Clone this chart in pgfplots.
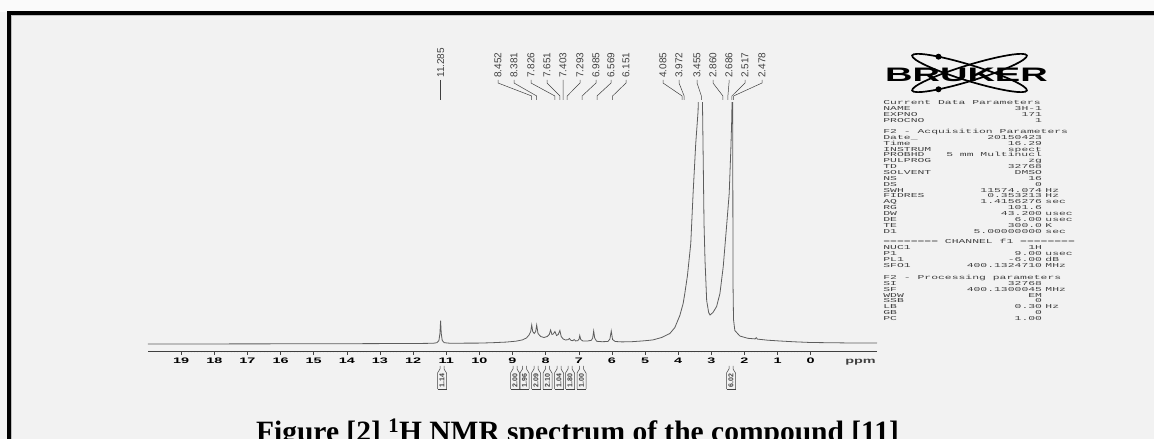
\documentclass[border=0pt]{standalone}
\usepackage{pgfplots}
\pgfplotsset{compat=1.18}
\usepackage{fontspec}
\setmainfont{Liberation Serif}
\newfontfamily\sansf{Liberation Sans}
\newfontfamily\monof{Liberation Mono}
\definecolor{bg}{HTML}{F2F2F2}
\definecolor{spec}{HTML}{404040}
\newcommand\prow[3]{\makebox[83.5pt][l]{#1}\llap{#2}\hspace{1.8pt}#3}
\begin{document}
\begin{tikzpicture}[x=1pt,y=1pt]
\clip (0,0) rectangle (1154,439);
\fill[bg] (0,0) rectangle (1154,439);
\fill[white!60!bg] (0,427) rectangle (1154,439);
\draw[line width=4pt] (8.5,-5) -- (8.5,425.5) -- (1160,425.5);
\draw[gray!50, line width=1pt] (11.5,-5) -- (11.5,423) -- (1160,423);

\begin{axis}[at={(512.5pt,212pt)}, anchor=center, scale only axis,
  width=729pt, height=248pt,
  xmin=-2, xmax=20, x dir=reverse, ymin=-7.5, ymax=240.5,
  axis x line*=bottom, axis y line=none,
  axis line style={spec, line width=0.6pt},
  xtick={0,...,19}, minor x tick num=9,
  tick align=outside, major tick length=4pt, minor tick length=1.5pt,
  tick style={spec, line width=0.5pt},
  /pgf/number format/assume math mode=true,
  xticklabel={\pgfmathprintnumber{\tick}},
  xticklabel style={font=\sansf\bfseries\fontsize{8}{8}\selectfont, xscale=1.8, anchor=center, yshift=-6pt},
  clip=true]
\addplot[spec!85!white, line width=0.8pt] coordinates {
(20,-0.5) (15,-0.3) (12,0) (11.4,0.2) (11.28,0.8) (11.22,3) (11.19,10) (11.17,22.8) (11.15,10) (11.12,3) (11.06,0.8) (10.9,0.3)
(10,0.4) (9.6,0.8) (9.2,1.4) (8.9,2.3) (8.7,3.6) (8.58,5.5) (8.5,8.5) (8.45,12) (8.42,18.5) (8.39,12) (8.345,10) (8.3,12) (8.27,18.5) (8.23,10) (8.15,7)
(8.05,6) (7.95,7) (7.89,9) (7.85,13.5) (7.81,9) (7.77,9.5) (7.72,12) (7.67,8) (7.62,9) (7.57,13) (7.53,7) (7.47,4.5) (7.40,3.5)
(7.33,3.8) (7.28,5) (7.24,3.2) (7.18,2.8) (7.14,4) (7.10,2.6) (7.03,2.8) (6.99,4.5) (6.97,8) (6.94,4) (6.88,2.6) (6.75,2.4)
(6.62,3.2) (6.58,5.5) (6.55,12.5) (6.52,5.5) (6.46,2.2) (6.3,1.8) (6.12,2.0) (6.06,4.5) (6.02,12.5) (5.98,4) (5.9,2)
(5.7,1.6) (5.4,1.8) (5.1,2.5) (4.9,3.1) (4.76,3.6) (4.5,6) (4.25,10) (4.1,16) (3.95,28) (3.85,40) (3.80,50) (3.72,68)
(3.62,100) (3.55,150) (3.47,200) (3.40,232) (3.33,320) (3.27,250) (3.22,120) (3.19,83) (3.14,43) (3.08,31) (3.04,28.5)
(2.95,31) (2.84,37) (2.74,50) (2.64,77) (2.54,117) (2.46,150) (2.41,195) (2.38,228) (2.36,330) (2.345,60) (2.33,24)
(2.29,13) (2.14,7.5) (1.9,5.2) (1.68,4.6) (1.645,5.8) (1.61,4.4) (1.3,3.3) (0.93,2.5) (0.5,1.7) (0,1) (-1,0.6) (-2,0.4)
};
\coordinate (e1) at (axis cs:11.17,243.5);
\coordinate (e2) at (axis cs:8.42,243.5);
\coordinate (e3) at (axis cs:8.27,243.5);
\coordinate (e4) at (axis cs:7.72,243.5);
\coordinate (e5) at (axis cs:7.57,243.5);
\coordinate (e6) at (axis cs:7.47,243.5);
\coordinate (e7) at (axis cs:7.35,243.5);
\coordinate (e8) at (axis cs:6.90,243.5);
\coordinate (e9) at (axis cs:6.45,243.5);
\coordinate (e10) at (axis cs:5.98,243.5);
\coordinate (e11) at (axis cs:3.88,243.5);
\coordinate (e12) at (axis cs:3.82,243.5);
\coordinate (e13) at (axis cs:3.30,243.5);
\coordinate (e14) at (axis cs:2.65,243.5);
\coordinate (e15) at (axis cs:2.50,243.5);
\coordinate (e16) at (axis cs:2.38,243.5);
\coordinate (e17) at (axis cs:2.33,243.5);
\end{axis}

% ppm label
\node[font=\sansf\bfseries\fontsize{8}{8}\selectfont, xscale=1.8, inner sep=0, text=spec] at (860.5,77) {ppm};

% peak labels
\foreach \lx/\p/\t in {498/e2/8.452, 514/e3/8.381, 531/e4/7.826, 547/e5/7.651, 563/e6/7.403, 580/e7/7.293, 596/e8/6.985, 611/e9/6.569, 626/e10/6.151,
  663/e11/4.085, 679/e12/3.972, 697/e13/3.455, 713/e14/2.860, 729/e15/2.686, 745/e16/2.517, 762/e17/2.478} {
  \draw[spec, line width=0.5pt] (\lx,359) -- (\lx,356) -- ([yshift=4pt]\p) -- (\p);
  \node[rotate=90, anchor=west, font=\sansf\fontsize{10}{10}\selectfont, inner sep=0, text=spec] at (\lx,361) {\t};
}
\draw[spec, line width=0.5pt] ([yshift=20pt]e1) -- (e1);
\node[rotate=90, anchor=west, font=\sansf\fontsize{10}{10}\selectfont, inner sep=0, text=spec] at ([yshift=22pt]e1) {11.285};

% integrals
\foreach \xc/\t in {442/1.14, 515/2.00, 524.5/1.96, 536/2.09, 547.5/2.10, 559/1.04, 570/1.80, 581.5/1.00, 731/6.02} {
  \draw[spec, line width=0.5pt] (\xc-4.5,50) -- (\xc-4.5,66) -- (\xc-2,70) -- (\xc-2,73);
  \draw[spec, line width=0.5pt] (\xc+4.5,50) -- (\xc+4.5,66) -- (\xc+2,70) -- (\xc+2,73);
  \draw[spec, line width=0.5pt] (\xc-4.5,50) -- (\xc+4.5,50);
  \node[rotate=90, font=\sansf\bfseries\fontsize{7}{7}\selectfont, inner sep=0, text=spec] at (\xc,58.5) {\t};
}

% Bruker logo
\begin{scope}[shift={(969.5,366)}]
  \draw[line width=1.7pt, rotate=17] (0,0) ellipse (60 and 8);
  \draw[line width=1.7pt, rotate=-17] (0,0) ellipse (60 and 8);
  \fill (-31,16.3) circle (3);
  \fill (-31,-16.3) circle (3);
\end{scope}
\node[font=\sansf\bfseries\fontsize{19.5}{19.5}\selectfont, xscale=1.95, inner sep=0] at (966.5,364) {BRUKER};

% parameters
\node[anchor=north west, xscale=1.9, inner sep=0, align=left, text=black!75,
  font=\monof\fontsize{6}{5.87}\selectfont] at (883,338.5) {%
Current Data Parameters\\
\prow{NAME}{3H-1}{}\\
\prow{EXPNO}{171}{}\\
\prow{PROCNO}{1}{}\\[5.2pt]
F2 - Acquisition Parameters\\
\prow{Date\_}{20150423}{}\\
\prow{Time}{16.29}{}\\
\prow{INSTRUM}{spect}{}\\
\prow{PROBHD}{5 mm Multinucl}{}\\
\prow{PULPROG}{zg}{}\\
\prow{TD}{32768}{}\\
\prow{SOLVENT}{DMSO}{}\\
\prow{NS}{16}{}\\
\prow{DS}{0}{}\\
\prow{SWH}{11574.074}{Hz}\\
\prow{FIDRES}{0.353213}{Hz}\\
\prow{AQ}{1.4156276}{sec}\\
\prow{RG}{101.6}{}\\
\prow{DW}{43.200}{usec}\\
\prow{DE}{6.00}{usec}\\
\prow{TE}{300.0}{K}\\
\prow{D1}{5.00000000}{sec}\\[4.6pt]
======== CHANNEL f1 ========\\
\prow{NUC1}{1H}{}\\
\prow{P1}{9.00}{usec}\\
\prow{PL1}{-6.00}{dB}\\
\prow{SFO1}{400.1324710}{MHz}\\[6.4pt]
F2 - Processing parameters\\
\prow{SI}{32768}{}\\
\prow{SF}{400.1300045}{MHz}\\
\prow{WDW}{EM}{}\\
\prow{SSB}{0}{}\\
\prow{LB}{0.30}{Hz}\\
\prow{GB}{0}{}\\
\prow{PC}{1.00}{}};

% caption
\node[anchor=base, font=\bfseries\fontsize{29.5}{29.5}\selectfont, inner sep=0] at (577.5,-2.5) {Figure [2] \textsuperscript{1}H NMR spectrum of the compound [11]};
\end{tikzpicture}
\end{document}
